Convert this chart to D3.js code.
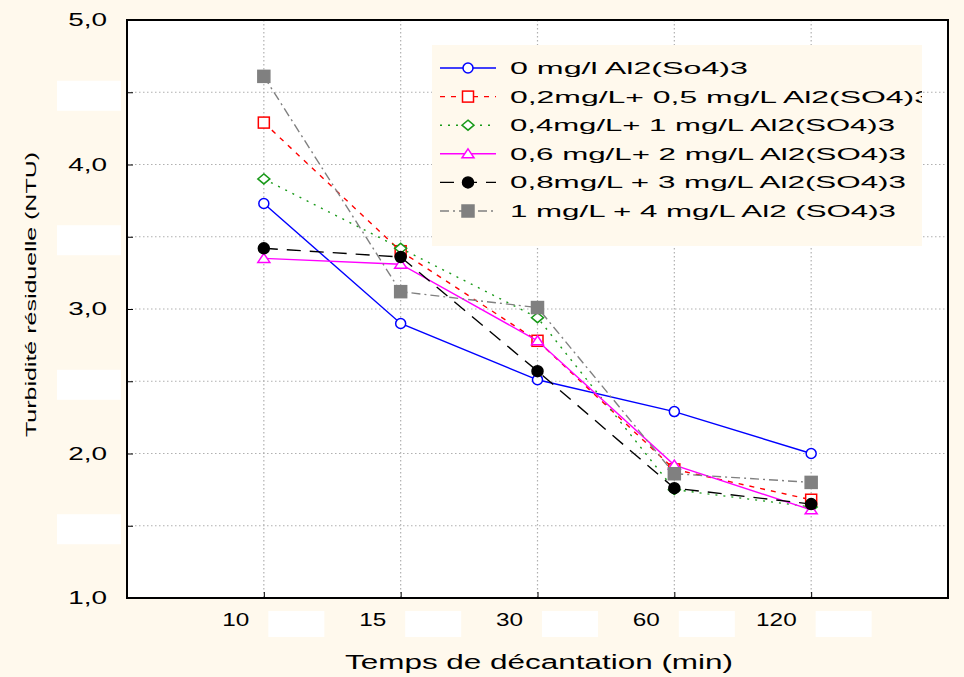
<!DOCTYPE html>
<html>
<head>
<meta charset="utf-8">
<script src="https://cdn.jsdelivr.net/npm/d3@7"></script>
<style>
  body { margin: 0; background: #fff9ed; }
  svg { display: block; font-family: "Liberation Sans", Arial, sans-serif; }
</style>
</head>
<body>
<svg id="chart" width="964" height="677"></svg>
<script>
// categories (settling time, min)
const times = ["10", "15", "30", "60", "120"];

// residual turbidity (NTU) per dose
const dose0 = [3.73, 2.90, 2.51, 2.29, 2.00];
const dose02 = [4.29, 3.40, 2.78, 1.89, 1.68];
const dose04 = [3.90, 3.42, 2.94, 1.75, 1.63];
const dose06 = [3.35, 3.31, 2.78, 1.92, 1.61];
const dose08 = [3.42, 3.36, 2.57, 1.76, 1.65];
const dose1 = [4.61, 3.12, 3.01, 1.86, 1.80];

const seriesNames = [
  "0 mg/l Al2(So4)3",
  "0,2mg/L+ 0,5 mg/L Al2(SO4)3",
  "0,4mg/L+ 1 mg/L Al2(SO4)3",
  "0,6 mg/L+ 2 mg/L Al2(SO4)3",
  "0,8mg/L + 3 mg/L Al2(SO4)3",
  "1 mg/L + 4 mg/L Al2 (SO4)3"
];

const yTicks = [1, 1.5, 2, 2.5, 3, 3.5, 4, 4.5, 5];

// line / marker look, and how wide each legend label is drawn (px)
const styles = [
  { color: "#0000ff", dash: null, marker: "circle", fill: false, w: 238 },
  { color: "#ff0000", dash: "5,6", marker: "square", fill: false, w: 422 },
  { color: "#1a9a1a", dash: "2,6", marker: "diamond", fill: false, w: 385 },
  { color: "#ff00ff", dash: null, marker: "triangle", fill: false, w: 396 },
  { color: "#000000", dash: "14,9", marker: "circle", fill: true, w: 396 },
  { color: "#808080", dash: "9,4,2,4", marker: "square", fill: true, w: 386 }
];

const series = [dose0, dose02, dose04, dose06, dose08, dose1].map((vals, i) => ({
  name: seriesNames[i],
  values: vals,
  style: styles[i]
}));

const svg = d3.select("#chart");
const pLeft = 127, pRight = 948, pTop = 20, pBottom = 598;

const x = d3.scaleLinear().domain([-1, times.length]).range([pLeft, pRight]);
const y = d3.scaleLinear().domain([1, 5]).range([pBottom, pTop]);
const fmt = v => d3.format(".1f")(v).replace(".", ",");

// the reference text is drawn stretched sideways
function widen(sel, f) {
  sel.each(function () {
    const w = this.getComputedTextLength();
    d3.select(this).attr("textLength", w * f).attr("lengthAdjust", "spacingAndGlyphs");
  });
}

// plot area
svg.append("rect")
  .attr("x", pLeft).attr("y", pTop)
  .attr("width", pRight - pLeft).attr("height", pBottom - pTop)
  .attr("fill", "#fff");

// grid
const grid = svg.append("g").attr("stroke", "#b0b0b0").attr("stroke-width", 1.2).attr("stroke-dasharray", "1.5,2.5");
grid.selectAll(".gy")
  .data(yTicks.filter(v => v > 1 && v < 5))
  .join("line")
  .attr("class", "gy")
  .attr("x1", pLeft).attr("x2", pRight)
  .attr("y1", d => y(d)).attr("y2", d => y(d));
grid.selectAll(".gx")
  .data(times)
  .join("line")
  .attr("class", "gx")
  .attr("x1", (d, i) => x(i)).attr("x2", (d, i) => x(i))
  .attr("y1", pTop).attr("y2", pBottom);

// axes
const yAxis = svg.append("g")
  .attr("transform", `translate(${pLeft},0)`)
  .call(d3.axisLeft(y).tickValues(yTicks).tickSize(-6).tickPadding(20)
    .tickFormat(d => fmt(d)));
yAxis.select(".domain").remove();
yAxis.selectAll("line").attr("stroke", "#000");
yAxis.selectAll("text")
  .attr("font-size", 18).attr("fill", "#000")
  .call(widen, 1.55);

// white patches over the half-step labels
yAxis.selectAll(".tick").filter(d => d % 1 !== 0)
  .append("rect")
  .attr("x", -70).attr("y", -12).attr("width", 64).attr("height", 30)
  .attr("fill", "#fff");

const xAxis = svg.append("g")
  .attr("transform", `translate(0,${pBottom})`)
  .call(d3.axisBottom(x).tickValues(d3.range(times.length)).tickSize(-6).tickPadding(15)
    .tickFormat(i => times[i]));
xAxis.select(".domain").remove();
xAxis.selectAll("line").attr("stroke", "#000");
xAxis.selectAll("text")
  .attr("font-size", 18).attr("fill", "#000")
  .attr("text-anchor", "end").attr("dx", -15)
  .call(widen, 1.35);
xAxis.selectAll(".tick")
  .append("rect")
  .attr("x", 4).attr("y", 13).attr("width", 56).attr("height", 26)
  .attr("fill", "#fff");

// frame
svg.append("rect")
  .attr("x", pLeft).attr("y", pTop)
  .attr("width", pRight - pLeft).attr("height", pBottom - pTop)
  .attr("fill", "none").attr("stroke", "#000").attr("stroke-width", 2);

// axis titles
svg.append("text")
  .attr("x", 345).attr("y", 669)
  .attr("font-size", 20)
  .attr("textLength", 388).attr("lengthAdjust", "spacingAndGlyphs")
  .text("Temps de décantation (min)");

svg.append("text")
  .attr("transform", "translate(36,437) rotate(-90)")
  .attr("font-size", 14)
  .attr("textLength", 285).attr("lengthAdjust", "spacingAndGlyphs")
  .text("Turbidité résiduelle (NTU)");

// markers
function drawMarker(g, s, cx, cy) {
  const fill = s.fill ? s.color : "#fff";
  if (s.marker === "circle") {
    g.append("circle").attr("cx", cx).attr("cy", cy).attr("r", s.fill ? 5.5 : 5)
      .attr("fill", fill).attr("stroke", s.color).attr("stroke-width", 1.5);
  } else if (s.marker === "square") {
    const h = s.fill ? 6 : 5.5;
    g.append("rect").attr("x", cx - h).attr("y", cy - h).attr("width", 2 * h).attr("height", 2 * h)
      .attr("fill", fill).attr("stroke", s.color).attr("stroke-width", 1.5);
  } else if (s.marker === "diamond") {
    g.append("path").attr("d", `M${cx},${cy - 5}L${cx + 6},${cy}L${cx},${cy + 5}L${cx - 6},${cy}Z`)
      .attr("fill", fill).attr("stroke", s.color).attr("stroke-width", 1.5);
  } else if (s.marker === "triangle") {
    g.append("path").attr("d", `M${cx},${cy - 5}L${cx + 6},${cy + 4}L${cx - 6},${cy + 4}Z`)
      .attr("fill", fill).attr("stroke", s.color).attr("stroke-width", 1.5);
  }
}

const line = d3.line().x((d, i) => x(i)).y(d => y(d));

const plot = svg.append("g");
series.forEach(s => {
  const g = plot.append("g");
  g.append("path")
    .attr("d", line(s.values))
    .attr("fill", "none")
    .attr("stroke", s.style.color)
    .attr("stroke-width", 1.4)
    .attr("stroke-dasharray", s.style.dash);
  s.values.forEach((v, i) => drawMarker(g, s.style, x(i), y(v)));
});

// legend
const lg = svg.append("g");
svg.append("clipPath").attr("id", "legclip")
  .append("rect").attr("x", 432).attr("y", 45).attr("width", 490).attr("height", 201);
lg.append("rect")
  .attr("x", 432).attr("y", 45).attr("width", 490).attr("height", 201)
  .attr("fill", "#fff9ed");
const items = lg.append("g").attr("clip-path", "url(#legclip)");
series.forEach((s, i) => {
  const ly = 68 + i * 28.6;
  const it = items.append("g");
  it.append("line")
    .attr("x1", 440).attr("x2", 496).attr("y1", ly).attr("y2", ly)
    .attr("stroke", s.style.color).attr("stroke-width", 1.4)
    .attr("stroke-dasharray", s.style.dash);
  drawMarker(it, s.style, 468, ly);
  it.append("text")
    .attr("x", 510).attr("y", ly + 6)
    .attr("font-size", 17)
    .attr("textLength", s.style.w).attr("lengthAdjust", "spacingAndGlyphs")
    .text(s.name);
});
</script>
</body>
</html>
